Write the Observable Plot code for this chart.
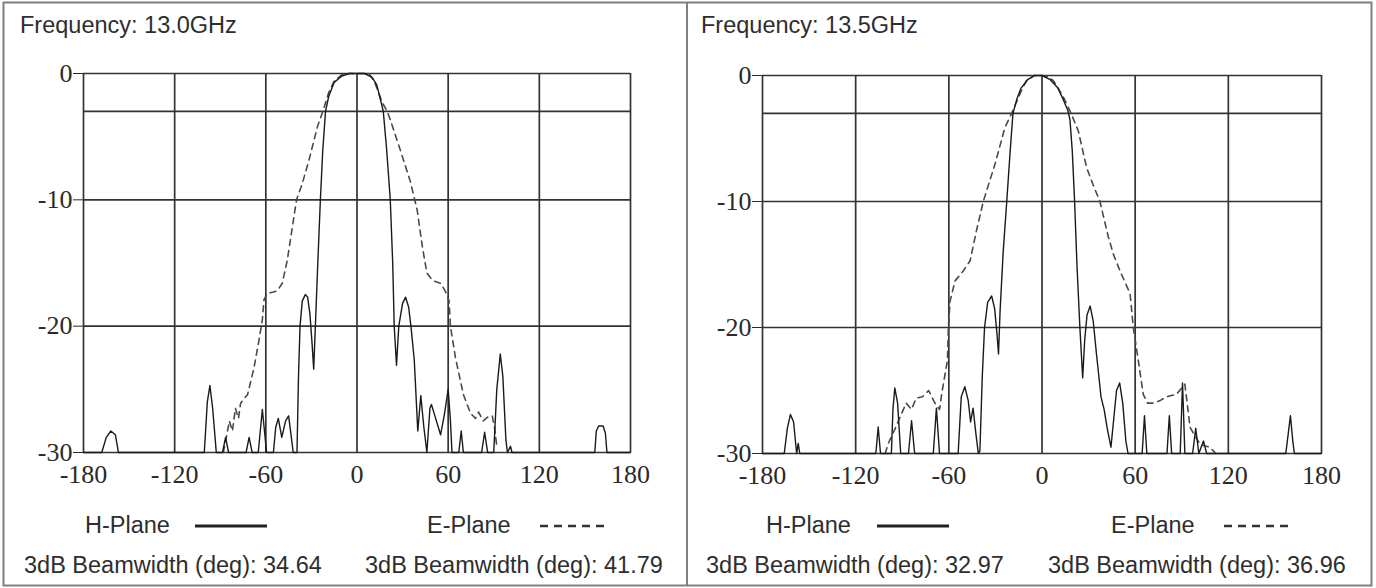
<!DOCTYPE html>
<html><head><meta charset="utf-8">
<script src="https://cdn.jsdelivr.net/npm/d3@7"></script>
<script src="https://cdn.jsdelivr.net/npm/@observablehq/plot@0.6"></script>
<style>
html,body{margin:0;padding:0;background:#fff;}
#wrap{position:relative;width:1376px;height:588px;overflow:hidden;background:#fff;}
.chart{position:absolute;top:0;}
#overlay{position:absolute;left:0;top:0;}
</style></head>
<body><div id="wrap"></div>
<script>
// ---- data ----
const xTicks = [-180, -120, -60, 0, 60, 120, 180];
const yTicks = [0, -10, -20, -30];
const yGrid = [0, -3, -10, -20, -30];

const freqLabels = ["Frequency: 13.0GHz", "Frequency: 13.5GHz"];
const planeLabels = ["H-Plane", "E-Plane"];
const bwH = ["34.64", "32.97"];
const bwE = ["41.79", "36.96"];

// 13.0 GHz, H-plane [angle deg, dB]
const h130 = [[-180,-30],[-168,-30],[-165,-28.8],[-162,-28.3],[-159,-28.6],[-157,-30],
[-100.5,-30],[-98.5,-26],[-96.8,-24.7],[-95,-26.5],[-92.6,-30],
[-88.5,-30],[-86.5,-28.8],[-84.5,-30],
[-73,-30],[-71,-28.8],[-69,-30],
[-65,-30],[-62.3,-26.6],[-59.5,-30],
[-55,-30],[-53.5,-28],[-51.8,-27.3],[-49.5,-28.8],[-47,-27.5],[-45,-27.1],[-43,-29],[-42,-30],
[-39.5,-30],[-38.5,-24],[-37.5,-20],[-36,-18],[-34,-17.5],[-32.5,-17.7],[-31,-19],[-29.5,-21.5],[-28.5,-23.4],[-27.4,-20],[-25.8,-15],[-24.1,-10],[-22.5,-6],[-20.7,-3],[-18.6,-1.8],[-15,-0.7],[-10,-0.2],[-5,0],[0,0],[5,0],[10,-0.3],[13,-0.9],[15.5,-2.1],[17.3,-3],[19.5,-6],[21.9,-10],[23.5,-15],[24.5,-20],[26,-23.1],[27.5,-20],[30,-18.2],[32,-17.7],[34,-18.5],[35.5,-20],[37.7,-22.7],[40,-28.3],[42,-25.5],[44,-28],[46,-30],[48,-26.5],[49,-26.2],[51,-27],[55,-28.6],[57.5,-27],[60,-25],[61.5,-27.5],[62.5,-30],
[67,-30],[68.6,-28.3],[70,-30],
[82,-30],[84,-28.4],[86,-30],
[90,-30],[92,-25],[94.3,-22.2],[96,-24],[98,-29],[99,-30],[101,-29.5],[102,-30],
[156.5,-30],[157.5,-28.3],[159,-27.9],[162,-27.9],[163.5,-28.5],[164.5,-30],[180,-30]];

// 13.0 GHz, E-plane
const e130 = [[-88,-30],[-86,-28.8],[-84,-27.5],[-82,-28.3],[-80,-26.5],[-78,-27.3],[-76.6,-26.1],[-72,-25.4],[-67.8,-23.3],[-64.5,-21.1],[-62.3,-19.5],[-61.2,-17.9],[-59,-17.4],[-55,-17.3],[-52.4,-17.2],[-49.2,-16.6],[-45.9,-14.8],[-42.6,-12.2],[-39.8,-10],[-36,-8.7],[-31.7,-6.9],[-26,-4.2],[-22.5,-3],[-18.6,-1.5],[-15,-0.6],[-10,-0.1],[-5,0],[0,0],[8,0],[12,-0.8],[16.6,-2.3],[19.9,-3],[22,-3.7],[28.6,-6.1],[35,-8.5],[39.6,-10.8],[43,-13.7],[46,-15.8],[50,-16.4],[55,-16.6],[58,-17.2],[60.6,-18],[61.5,-20],[64.8,-22.5],[70,-25.4],[74.7,-26.9],[78,-27.3],[80,-26.8],[83,-27.5],[86,-27.2],[89,-27.1],[90.5,-28],[92,-29.5]];

// 13.5 GHz, H-plane
const h135 = [[-180,-30],[-166,-30],[-164,-28],[-162,-26.9],[-160,-27.5],[-158,-30],[-157,-29.2],[-156,-30],
[-107,-30],[-105.5,-27.9],[-104,-30],
[-97,-30],[-96,-26.5],[-94.8,-24.8],[-93,-26],[-91,-30],
[-86,-30],[-84,-27.4],[-82,-30],
[-70,-30],[-68,-26.4],[-66,-30],
[-54,-30],[-52,-25.5],[-49.7,-24.7],[-47.5,-25.8],[-46,-27.5],[-44.4,-26.4],[-42.5,-28.5],[-41,-30],
[-40,-29.8],[-38.5,-24],[-37,-20],[-35,-18],[-32.4,-17.5],[-30.5,-18.5],[-29,-20.5],[-28,-22.1],[-27,-18.7],[-25,-14],[-22.7,-10],[-20.5,-6],[-18.7,-3],[-16,-1.8],[-13.5,-1],[-9,-0.3],[-4.7,0],[0,0],[5,-0.3],[10.3,-1],[14,-2],[16.7,-2.8],[18,-3.5],[19.5,-6],[21,-10],[22.5,-15],[24.4,-20],[26.2,-24],[27.5,-21],[29,-19],[31,-18.3],[33,-19.5],[35,-22],[38,-25.5],[40,-26.5],[42,-28],[44.4,-29.5],[46,-27.5],[48,-25],[50,-24.4],[52,-26],[54,-29],[55.4,-30],
[64.5,-30],[66,-27],[67.5,-30],
[80.5,-30],[82,-27],[83.5,-30],
[89,-30],[90.5,-24.4],[92,-30],
[97,-30],[99,-28],[101,-30],[104,-29],[106,-30],
[157,-30],[158.5,-28.5],[160,-27],[161.5,-29],[162.5,-30],[180,-30]];

// 13.5 GHz, E-plane
const e135 = [[-101,-30],[-99,-29.2],[-94.5,-28],[-91,-27],[-87.5,-26],[-84,-26.5],[-81,-25.6],[-77,-25.5],[-73,-25],[-69,-26],[-66,-26.5],[-64.5,-25.2],[-60.9,-22.6],[-60.3,-20],[-59.2,-17.9],[-56,-16.3],[-50.6,-15.5],[-46.3,-14.7],[-42,-12.2],[-37.8,-10],[-34,-8.5],[-30.2,-7],[-23.8,-4.1],[-19.5,-3],[-14,-1.4],[-10,-0.4],[-5,0],[0,0],[4,-0.1],[7.3,-0.4],[13.7,-1.7],[18,-2.8],[23.4,-4.4],[28.7,-7.3],[33,-8.7],[37.3,-10],[42.7,-12.8],[46,-14.2],[50.2,-15.5],[56.7,-17.3],[58.8,-20],[62,-22.6],[65.2,-25.3],[68,-26],[71.6,-26],[76,-25.8],[80.2,-25.5],[86.6,-25.3],[90,-24.8],[92,-24.5],[93.5,-26],[95.3,-27.9],[98,-28.5],[102,-29.3],[108,-29.5],[112,-30]];

// ---- layout / drawing ----
const panels = [
  {left: 0,   h: h130, e: e130, ml: 83, mr: 58, mt: 73, yb: 452,
   title: [20, 33], hLbl: [85, 533], hLine: [195, 267], eLbl: [427, 533], eLine: [540, 604], bw1: [24, 573], bw2: [365, 573]},
  {left: 688, h: h135, e: e135, ml: 74, mr: 55, mt: 75, yb: 453,
   title: [13, 33], hLbl: [78, 533], hLine: [189, 261], eLbl: [423, 533], eLine: [536, 600], bw1: [18, 573], bw2: [360, 573]}
];

const wrap = document.getElementById("wrap");
const W = 688, HH = 490;

panels.forEach((p, i) => {
  const H = p.h.map(([a, d]) => ({a, d}));
  const E = p.e.map(([a, d]) => ({a, d}));
  const chart = Plot.plot({
    width: W, height: HH,
    marginLeft: p.ml, marginRight: p.mr, marginTop: p.mt, marginBottom: HH - p.yb,
    style: {fontFamily: '"Liberation Serif", "Times New Roman", serif', fontSize: "26px", color: "#2a2a2a", background: "transparent", overflow: "visible"},
    x: {domain: [-180, 180], ticks: xTicks, tickSize: 0, tickPadding: 12, tickFormat: d => String(d), label: null},
    y: {domain: [-30, 0], ticks: yTicks, tickSize: 10, tickPadding: 1, tickFormat: d => String(d), label: null},
    marks: [
      Plot.ruleX(xTicks, {stroke: "#333", strokeWidth: 1.7}),
      Plot.ruleY(yGrid, {stroke: "#333", strokeWidth: 1.7}),
      Plot.line(E, {x: "a", y: "d", stroke: "#4a4a4a", strokeWidth: 1.6, strokeDasharray: "6,5"}),
      Plot.line(H, {x: "a", y: "d", stroke: "#1a1a1a", strokeWidth: 1.4})
    ]
  });
  chart.classList.add("chart");
  chart.style.left = p.left + "px";
  wrap.appendChild(chart);
});

// overlay: frames, titles, legends, beamwidth captions
const ov = d3.select(wrap).append("svg").attr("id", "overlay")
  .attr("width", 1376).attr("height", 588);
ov.append("rect").attr("x", 3.5).attr("y", 2.5).attr("width", 1368).attr("height", 583)
  .attr("fill", "none").attr("stroke", "#808080").attr("stroke-width", 2);
ov.append("line").attr("x1", 687).attr("x2", 687).attr("y1", 2.5).attr("y2", 585.5)
  .attr("stroke", "#808080").attr("stroke-width", 2);

const txt = (x, y, s) => ov.append("text").attr("x", x).attr("y", y).text(s)
  .attr("font-family", '"Liberation Sans", Arial, sans-serif').attr("font-size", 23.5).attr("fill", "#2e2e2e");

panels.forEach((p, i) => {
  const L = p.left;
  txt(L + p.title[0], p.title[1], freqLabels[i]);
  txt(L + p.hLbl[0], p.hLbl[1], planeLabels[0]);
  ov.append("line").attr("x1", L + p.hLine[0]).attr("x2", L + p.hLine[1]).attr("y1", 526).attr("y2", 526)
    .attr("stroke", "#222").attr("stroke-width", 3);
  txt(L + p.eLbl[0], p.eLbl[1], planeLabels[1]);
  ov.append("line").attr("x1", L + p.eLine[0]).attr("x2", L + p.eLine[1]).attr("y1", 526).attr("y2", 526)
    .attr("stroke", "#333").attr("stroke-width", 2.5).attr("stroke-dasharray", "8,6");
  txt(L + p.bw1[0], p.bw1[1], "3dB Beamwidth (deg): " + bwH[i]);
  txt(L + p.bw2[0], p.bw2[1], "3dB Beamwidth (deg): " + bwE[i]);
});
</script>
</body></html>
